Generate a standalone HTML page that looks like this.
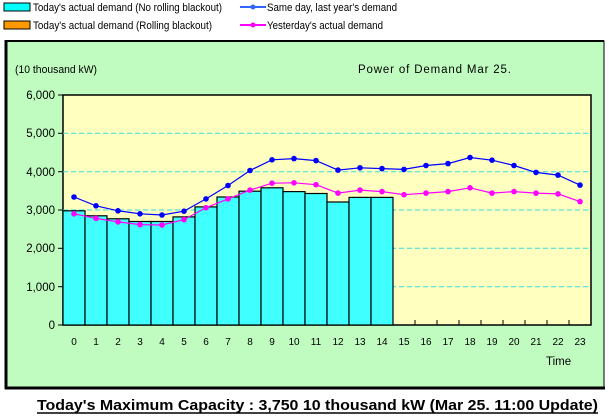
<!DOCTYPE html>
<html><head><meta charset="utf-8"><style>
html,body{margin:0;padding:0;background:#fff;width:609px;height:418px;overflow:hidden}
svg text{font-family:"Liberation Sans",sans-serif}
</style></head><body>
<svg width="609" height="418" xmlns="http://www.w3.org/2000/svg">
<defs>
<marker id="mb" markerWidth="7" markerHeight="7" refX="3.5" refY="3.5" markerUnits="userSpaceOnUse"><circle cx="3.5" cy="3.5" r="2.8" fill="#0000ff"/></marker>
<marker id="mm" markerWidth="7" markerHeight="7" refX="3.5" refY="3.5" markerUnits="userSpaceOnUse"><circle cx="3.5" cy="3.5" r="2.8" fill="#ff00ff"/></marker>
</defs>
<rect x="4" y="3" width="26" height="8" fill="#00ffff" stroke="#000"/>
<text x="33" y="11" font-size="11" textLength="189" lengthAdjust="spacingAndGlyphs">Today's actual demand (No rolling blackout)</text>
<rect x="4" y="21" width="26" height="8" fill="#ff9900" stroke="#000"/>
<text x="33" y="29" font-size="11" textLength="179" lengthAdjust="spacingAndGlyphs">Today's actual demand (Rolling blackout)</text>
<line x1="240" y1="7" x2="266" y2="7" stroke="#3366ff" stroke-width="2"/><circle cx="253" cy="7" r="2.5" fill="#3366ff"/>
<text x="267" y="11" font-size="11" textLength="130" lengthAdjust="spacingAndGlyphs">Same day, last year's demand</text>
<line x1="240" y1="25" x2="266" y2="25" stroke="#ff00ff" stroke-width="2"/><circle cx="253" cy="25" r="2.5" fill="#ff00ff"/>
<text x="267" y="29" font-size="11" textLength="116" lengthAdjust="spacingAndGlyphs">Yesterday's actual demand</text>
<rect x="6" y="41" width="598" height="347" fill="#c0fcc0" stroke="#000" stroke-width="1"/>
<line x1="6" y1="40" x2="6" y2="389" stroke="#000" stroke-width="3"/>
<line x1="5" y1="41" x2="604" y2="41" stroke="#000" stroke-width="2"/>
<line x1="5" y1="388" x2="605" y2="388" stroke="#000" stroke-width="3"/>
<text x="15" y="73" font-size="11" textLength="82" lengthAdjust="spacingAndGlyphs">(10 thousand kW)</text>
<text x="358" y="73" font-size="11.5" textLength="153" lengthAdjust="spacing">Power  of  Demand Mar 25.</text>
<rect x="63" y="95" width="528" height="230" fill="#ffffc0" stroke="#000" stroke-width="1.5"/>
<g stroke="#33dddd" stroke-dasharray="5,3" stroke-width="1">
<line x1="63" y1="133.3" x2="591" y2="133.3"/><line x1="63" y1="171.7" x2="591" y2="171.7"/>
<line x1="63" y1="210" x2="591" y2="210"/><line x1="63" y1="248.3" x2="591" y2="248.3"/>
<line x1="63" y1="286.7" x2="591" y2="286.7"/>
</g>
<g stroke="#000" stroke-width="1">
<line x1="58" y1="95" x2="63" y2="95"/><line x1="58" y1="133.3" x2="63" y2="133.3"/><line x1="58" y1="171.7" x2="63" y2="171.7"/><line x1="58" y1="210" x2="63" y2="210"/><line x1="58" y1="248.3" x2="63" y2="248.3"/><line x1="58" y1="286.7" x2="63" y2="286.7"/><line x1="58" y1="325" x2="63" y2="325"/>
</g>
<g font-size="11.5" text-anchor="end">
<text x="55" y="99">6,000</text><text x="55" y="137">5,000</text><text x="55" y="176">4,000</text><text x="55" y="214">3,000</text><text x="55" y="252">2,000</text><text x="55" y="291">1,000</text><text x="55" y="329">0</text>
</g>
<g fill="#40ffff" stroke="#000" stroke-width="1.2">
<rect x="63" y="210.8" width="22" height="114.2"/>
<rect x="85" y="215.8" width="22" height="109.2"/>
<rect x="107" y="218.8" width="22" height="106.2"/>
<rect x="129" y="221.5" width="22" height="103.5"/>
<rect x="151" y="221.5" width="22" height="103.5"/>
<rect x="173" y="216.9" width="22" height="108.1"/>
<rect x="195" y="206.9" width="22" height="118.1"/>
<rect x="217" y="197" width="22" height="128"/>
<rect x="239" y="191.2" width="22" height="133.8"/>
<rect x="261" y="187.8" width="22" height="137.2"/>
<rect x="283" y="191.6" width="22" height="133.4"/>
<rect x="305" y="193.5" width="22" height="131.5"/>
<rect x="327" y="202" width="22" height="123"/>
<rect x="349" y="197.4" width="22" height="127.6"/>
<rect x="371" y="197.4" width="22" height="127.6"/>
</g>
<g stroke="#000"><line x1="415" y1="320" x2="415" y2="325"/><line x1="437" y1="320" x2="437" y2="325"/><line x1="459" y1="320" x2="459" y2="325"/><line x1="481" y1="320" x2="481" y2="325"/><line x1="503" y1="320" x2="503" y2="325"/><line x1="525" y1="320" x2="525" y2="325"/><line x1="547" y1="320" x2="547" y2="325"/><line x1="569" y1="320" x2="569" y2="325"/></g>
<polyline fill="none" stroke="#0000ff" stroke-width="1.2" marker-start="url(#mb)" marker-mid="url(#mb)" marker-end="url(#mb)" points="74,197 96,205.8 118,210.8 140,213.8 162,215 184,211.2 206,198.9 228,185.5 250,170.5 272,159.8 294,158.6 316,160.6 338,170.1 360,167.8 382,168.6 404,169.4 426,165.5 448,163.6 470,157.5 492,160.2 514,165.5 536,172.4 558,175.1 580,185.1"/>
<polyline fill="none" stroke="#ff00ff" stroke-width="1.2" marker-start="url(#mm)" marker-mid="url(#mm)" marker-end="url(#mm)" points="74,213.8 96,218.4 118,221.9 140,224.6 162,225 184,219.6 206,207.7 228,198.9 250,190.1 272,183.2 294,182.8 316,184.7 338,193.1 360,190.1 382,191.6 404,194.7 426,193.1 448,191.6 470,187.8 492,193.1 514,191.6 536,193.1 558,193.9 580,201.6"/>
<g font-size="10" text-anchor="middle">
<text x="74" y="345">0</text><text x="96" y="345">1</text><text x="118" y="345">2</text><text x="140" y="345">3</text><text x="162" y="345">4</text><text x="184" y="345">5</text><text x="206" y="345">6</text><text x="228" y="345">7</text><text x="250" y="345">8</text><text x="272" y="345">9</text><text x="294" y="345">10</text><text x="316" y="345">11</text><text x="338" y="345">12</text><text x="360" y="345">13</text><text x="382" y="345">14</text><text x="404" y="345">15</text><text x="426" y="345">16</text><text x="448" y="345">17</text><text x="470" y="345">18</text><text x="492" y="345">19</text><text x="514" y="345">20</text><text x="536" y="345">21</text><text x="558" y="345">22</text><text x="580" y="345">23</text>
</g>
<text x="546" y="365" font-size="11.5">Time</text>
<text x="37" y="410" font-size="14.5" font-weight="bold" textLength="561" lengthAdjust="spacingAndGlyphs">Today's Maximum Capacity : 3,750 10 thousand kW (Mar 25. 11:00 Update)</text>
<line x1="37" y1="413" x2="598" y2="413" stroke="#000" stroke-width="1.5"/>
</svg>
</body></html>
